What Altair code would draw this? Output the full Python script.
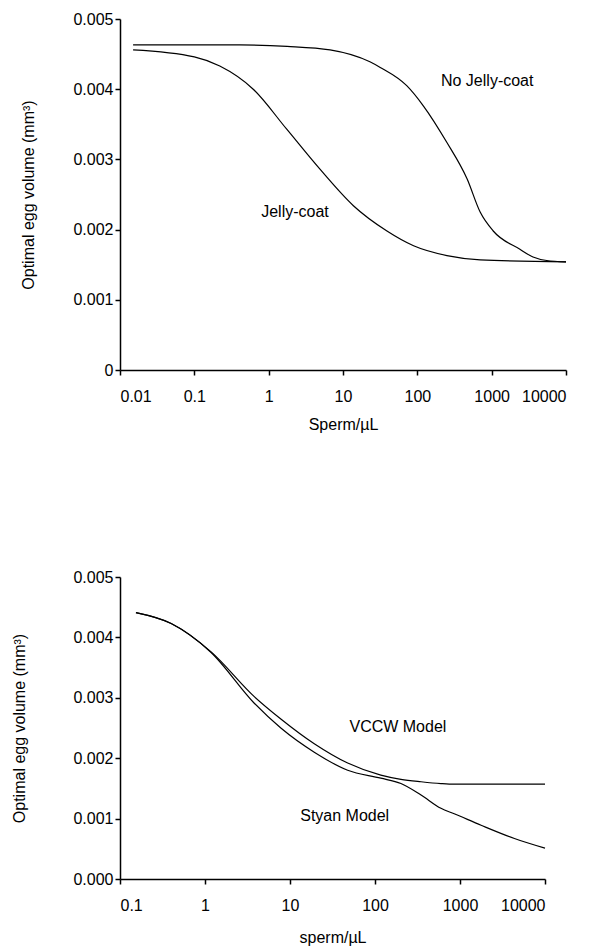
import altair as alt
import pandas as pd

# ---- top panel data ----
nojelly_x = [0.015, 0.41, 1.77, 6.7, 23, 31.7, 72, 121, 250, 468, 700, 1050, 2400, 3600, 5500, 10000]
nojelly_y = [0.00463, 0.00463, 0.00461, 0.00456, 0.00439, 0.00431, 0.00405, 0.00376, 0.00324,
             0.00272, 0.00225, 0.00198, 0.00172, 0.00161, 0.00156, 0.00154]
jelly_x = [0.015, 0.1, 0.22, 0.62, 1.75, 4.9, 13.8, 39, 89, 250, 700, 10000]
jelly_y = [0.00456, 0.00446, 0.00433, 0.00400, 0.00343, 0.00286, 0.00234, 0.00198, 0.00177,
           0.00163, 0.00157, 0.00154]

# ---- bottom panel data ----
model_x = [0.154, 0.4, 1.18, 3.8, 7.8, 19.3, 47.7, 117, 202, 348, 597, 855, 1770, 4370, 10000]
vccw_y = [0.00441, 0.00423, 0.00376, 0.00302, 0.00265, 0.00224, 0.00192, 0.00172, 0.00165,
          0.00161, 0.00158, 0.00157, 0.00157, 0.00157, 0.00157]
styan_y = [0.00441, 0.00423, 0.00375, 0.00291, 0.00250, 0.00210, 0.00180, 0.00167, 0.00158,
           0.00139, 0.00117, 0.00108, 0.00089, 0.00067, 0.00051]

# ---- labels ----
top_labels = ["No Jelly-coat", "Jelly-coat"]
top_label_x = [871, 2.26]
top_label_y = [0.00412, 0.00225]
bot_labels = ["VCCW Model", "Styan Model"]
bot_label_x = [186, 44]
bot_label_y = [0.00252, 0.00104]

y_ticks = [0, 0.001, 0.002, 0.003, 0.004, 0.005]
top_x_ticks = [0.01, 0.1, 1, 10, 100, 1000, 10000]
bot_x_ticks = [0.1, 1, 10, 100, 1000, 10000]

FONT = "Liberation Sans"

top_df = pd.concat([
    pd.DataFrame({"x": nojelly_x, "y": nojelly_y, "s": "No Jelly-coat"}),
    pd.DataFrame({"x": jelly_x, "y": jelly_y, "s": "Jelly-coat"}),
])
bot_df = pd.concat([
    pd.DataFrame({"x": model_x, "y": vccw_y, "s": "VCCW"}),
    pd.DataFrame({"x": model_x, "y": styan_y, "s": "Styan"}),
])
top_lab = pd.DataFrame({"t": top_labels, "x": top_label_x, "y": top_label_y})
bot_lab = pd.DataFrame({"t": bot_labels, "x": bot_label_x, "y": bot_label_y})

ytitle = "Optimal egg volume (mm³)"


def panel(df, lab, xdom, xticks, xtitle, ylabexpr, w, h, ytp, xtp):
    xs = alt.Scale(type="log", domain=xdom, nice=False)
    ys = alt.Scale(domain=[0, 0.005], nice=False)
    xax = alt.Axis(values=xticks, labelExpr="format(datum.value, '~g')", title=xtitle,
                   labelPadding=13, titlePadding=xtp)
    yax = alt.Axis(values=y_ticks, labelExpr=ylabexpr, title=ytitle, labelPadding=2,
                   titlePadding=ytp)
    lines = alt.Chart(df).mark_line(color="black", strokeWidth=1.2, interpolate="monotone").encode(
        x=alt.X("x:Q", scale=xs, axis=xax),
        y=alt.Y("y:Q", scale=ys, axis=yax),
        detail="s:N",
    )
    texts = alt.Chart(lab).mark_text(font=FONT, fontSize=16, color="black", align="center",
                                     baseline="middle").encode(
        x=alt.X("x:Q", scale=xs),
        y=alt.Y("y:Q", scale=ys),
        text="t:N",
    )
    return alt.layer(lines, texts).properties(width=w, height=h)


top = panel(top_df, top_lab, [0.01, 10000], top_x_ticks, "Sperm/µL",
            "datum.value == 0 ? '0' : format(datum.value, '.3f')", 446, 351, 36, 12)
bot = panel(bot_df, bot_lab, [0.1, 10000], bot_x_ticks, "sperm/µL",
            "format(datum.value, '.3f')", 425, 302, 45, 16)

chart = alt.vconcat(top, bot, spacing=137).properties(
    padding={"left": 3, "top": 3, "right": 5, "bottom": 5},
    background="white",
).configure_view(stroke=None).configure_axis(
    grid=False, domainColor="black", tickColor="black", labelColor="black", titleColor="black",
    domainWidth=1.5, tickWidth=1.5, tickSize=5, labelFont=FONT, titleFont=FONT,
    labelFontSize=16, titleFontSize=16, titleFontWeight="normal"
)

chart.save("out.html", embed_options={"renderer": "svg", "actions": False})
